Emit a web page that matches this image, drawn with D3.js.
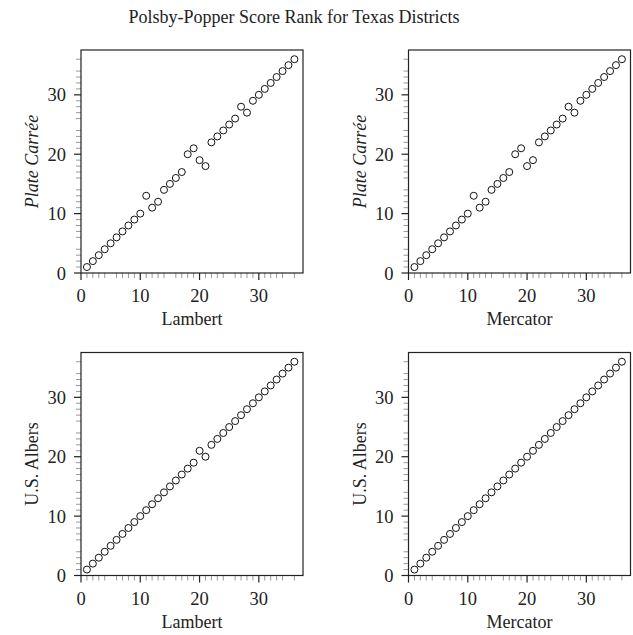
<html>
<head>
<meta charset="UTF-8">
<script src="https://d3js.org/d3.v7.min.js"></script>
<style>
  body { margin: 0; background: white; }
  text { font-family: "Liberation Serif", "DejaVu Serif", serif; fill: #222; }
  .frame { fill: none; stroke: #222; stroke-width: 1.2px; }
  .major { stroke: #222; stroke-width: 1.2px; }
  .minor { stroke: #999; stroke-width: 1px; }
  .pt { fill: white; stroke: #111; stroke-width: 1px; }
</style>
</head>
<body>
<svg id="chart" width="633" height="635"></svg>
<script>
// rank of each district under the reference projection (x axis)
const rankX = [1, 2, 3, 4, 5, 6, 7, 8, 9, 10, 11, 12, 13, 14, 15, 16, 17, 18,
               19, 20, 21, 22, 23, 24, 25, 26, 27, 28, 29, 30, 31, 32, 33, 34, 35, 36];

// rank under the compared projection (y axis)
const plateVsLambert = [1, 2, 3, 4, 5, 6, 7, 8, 9, 10, 13, 11, 12, 14, 15, 16, 17, 20,
                        21, 19, 18, 22, 23, 24, 25, 26, 28, 27, 29, 30, 31, 32, 33, 34, 35, 36];
const plateVsMercator = [1, 2, 3, 4, 5, 6, 7, 8, 9, 10, 13, 11, 12, 14, 15, 16, 17, 20,
                         21, 18, 19, 22, 23, 24, 25, 26, 28, 27, 29, 30, 31, 32, 33, 34, 35, 36];
const albersVsLambert = [1, 2, 3, 4, 5, 6, 7, 8, 9, 10, 11, 12, 13, 14, 15, 16, 17, 18,
                         19, 21, 20, 22, 23, 24, 25, 26, 27, 28, 29, 30, 31, 32, 33, 34, 35, 36];
const albersVsMercator = [1, 2, 3, 4, 5, 6, 7, 8, 9, 10, 11, 12, 13, 14, 15, 16, 17, 18,
                          19, 20, 21, 22, 23, 24, 25, 26, 27, 28, 29, 30, 31, 32, 33, 34, 35, 36];

const majorTicks = [0, 10, 20, 30];
const titleText = "Polsby-Popper Score Rank for Texas Districts";

const panels = [
  { col: 0, row: 0, xLabel: "Lambert",  yLabel: "Plate Carrée", italic: true,  ys: plateVsLambert },
  { col: 1, row: 0, xLabel: "Mercator", yLabel: "Plate Carrée", italic: true,  ys: plateVsMercator },
  { col: 0, row: 1, xLabel: "Lambert",  yLabel: "U.S. Albers",  italic: false, ys: albersVsLambert },
  { col: 1, row: 1, xLabel: "Mercator", yLabel: "U.S. Albers",  italic: false, ys: albersVsMercator }
];

const svg = d3.select('#chart');
const plotW = 222, plotH = 223;
const lefts = [81, 408.5];
const tops = [50, 352.5];

svg.append('text')
   .attr('x', 294).attr('y', 23)
   .attr('text-anchor', 'middle')
   .style('font-size', '18px')
   .text(titleText);

const minorTicks = rankX.filter(v => v % 5 !== 0);

panels.forEach(p => {
  const g = svg.append('g')
               .attr('transform', 'translate(' + lefts[p.col] + ',' + tops[p.row] + ')');

  const x = d3.scaleLinear().domain([0, 37.45]).range([0, plotW]);
  const y = d3.scaleLinear().domain([0, 37.55]).range([plotH, 0]);

  // minor rug-like ticks
  g.selectAll('line.mx').data(minorTicks).join('line')
   .attr('class', 'minor')
   .attr('x1', d => x(d)).attr('x2', d => x(d))
   .attr('y1', plotH).attr('y2', plotH + 5);
  g.selectAll('line.my').data(minorTicks).join('line')
   .attr('class', 'minor')
   .attr('y1', d => y(d)).attr('y2', d => y(d))
   .attr('x1', 0).attr('x2', -5);

  // major ticks and labels
  g.selectAll('line.Mx').data(majorTicks).join('line')
   .attr('class', 'major')
   .attr('x1', d => x(d)).attr('x2', d => x(d))
   .attr('y1', plotH).attr('y2', plotH + 7);
  g.selectAll('line.My').data(majorTicks).join('line')
   .attr('class', 'major')
   .attr('y1', d => y(d)).attr('y2', d => y(d))
   .attr('x1', 0).attr('x2', -7);

  g.selectAll('text.tx').data(majorTicks).join('text')
   .attr('x', d => x(d)).attr('y', plotH + 29)
   .attr('text-anchor', 'middle')
   .style('font-size', '18.5px')
   .text(d => d);
  g.selectAll('text.ty').data(majorTicks).join('text')
   .attr('x', -15).attr('y', d => y(d) + 6.5)
   .attr('text-anchor', 'end')
   .style('font-size', '18.5px')
   .text(d => d);

  g.append('rect').attr('class', 'frame')
   .attr('width', plotW).attr('height', plotH);

  g.selectAll('circle').data(rankX).join('circle')
   .attr('class', 'pt')
   .attr('cx', (d, i) => x(d))
   .attr('cy', (d, i) => y(p.ys[i]))
   .attr('r', 3.5);

  g.append('text')
   .attr('x', plotW / 2).attr('y', plotH + 52)
   .attr('text-anchor', 'middle')
   .style('font-size', '18px')
   .text(p.xLabel);

  g.append('text')
   .attr('transform', 'translate(-43,' + (plotH / 2) + ') rotate(-90)')
   .attr('text-anchor', 'middle')
   .style('font-size', '18px')
   .style('font-style', p.italic ? 'italic' : 'normal')
   .text(p.yLabel);
});
</script>
</body>
</html>
